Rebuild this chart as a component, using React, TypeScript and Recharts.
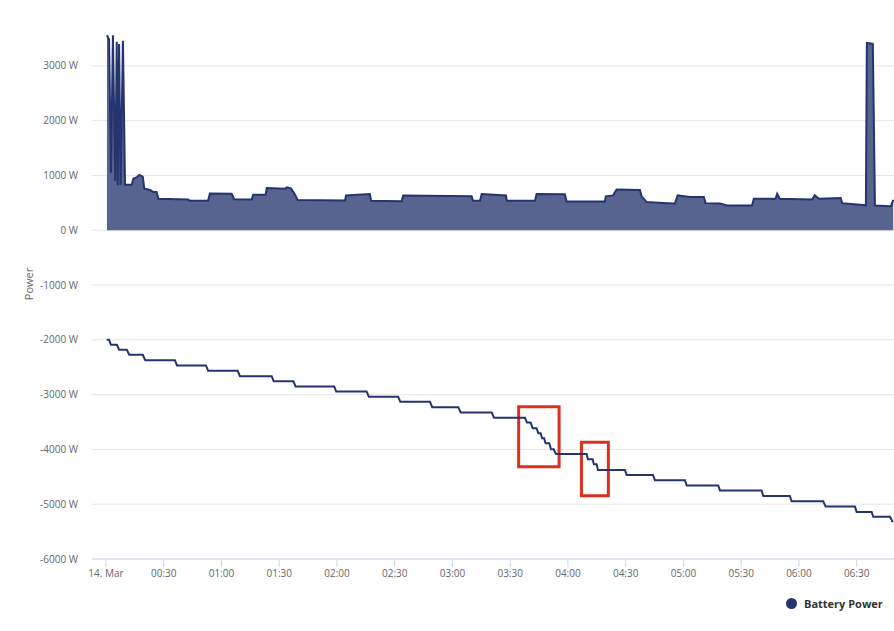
import React from 'react';
import {
  ComposedChart,
  Area,
  Line,
  XAxis,
  YAxis,
  CartesianGrid,
  ReferenceArea,
  Legend,
} from 'recharts';

// Upper series: consumption (positive), minutes after 14. Mar 00:00
const powerTimes = [
  0.5, 1.6, 2.6, 3.6, 4.8, 5.6, 6.1, 6.8, 7.6, 8.8, 9.9, 13.4, 14.2, 15.9, 17.3, 19.1,
  19.9, 22.9, 24.6, 26.3, 27.2, 42.6, 43.6, 53.0, 54.0, 65.3, 66.6, 75.7, 76.5, 83.0,
  83.5, 93.0, 94.0, 96.1, 97.3, 98.2, 99.6, 124.2, 124.7, 137.1, 137.7, 153.6, 154.4,
  190.0, 190.6, 194.3, 195.2, 207.8, 208.2, 222.9, 223.7, 238.4, 239.3, 259.2, 259.7,
  263.4, 265.3, 277.4, 278.3, 280.9, 291.4, 295.6, 297.0, 303.4, 310.6, 311.5, 319.0,
  322.6, 335.6, 336.6, 347.9, 348.7, 350.1, 366.8, 368.2, 370.4, 381.7, 382.5, 394.8,
  395.3, 398.4, 399.5, 407.8, 409.0,
];
const powerValues = [
  3560, 3480, 1050, 3560, 900, 3440, 820, 3400, 830, 3460, 830, 830, 940, 964, 1010, 977,
  758, 734, 697, 697, 575, 560, 539, 539, 672, 666, 566, 560, 648, 648,
  770, 758, 783, 765, 700, 648, 551, 545, 636, 660, 539, 530, 636,
  620, 539, 539, 660, 636, 539, 539, 660, 655, 527, 527, 620,
  636, 745, 734, 620, 514, 495, 487, 636, 608, 608, 495, 490,
  453, 453, 575, 575, 666, 575, 560, 640, 575, 590, 495, 455,
  3420, 3400, 450, 440, 557,
];

// Lower series: Battery Power (negative, stepped)
const batteryTimes = [
  0.4, 1.6, 2.6, 5.7, 6.8, 10.8, 12.1, 19.1, 20.4, 35.8, 36.9, 51.9, 53.1, 68.4, 69.6,
  86.1, 87.1, 97.3, 98.5, 118.6, 119.6, 135.4, 136.6, 151.8, 152.9, 168.3, 169.5, 183.0,
  184.3, 200.4, 201.6, 217.7, 218.7, 220.6, 221.7, 223.7, 224.6, 225.8, 226.6, 227.6,
  228.4, 230.3, 231.2, 232.6, 233.8, 249.7, 250.4, 252.8, 253.5, 254.9, 255.6, 269.6,
  270.5, 284.2, 285.2, 300.8, 301.7, 318.1, 319.0, 340.6, 341.5, 355.3, 356.2, 372.6,
  373.9, 389.1, 390.0, 397.8, 398.6, 407.3, 408.8,
];
const batteryValues = [
  -2000, -2000, -2091, -2091, -2182, -2182, -2273, -2273, -2371, -2371, -2468, -2468, -2566, -2566, -2663,
  -2663, -2754, -2754, -2852, -2852, -2943, -2943, -3040, -3040, -3132, -3132, -3229, -3229,
  -3327, -3327, -3424, -3424, -3511, -3511, -3614, -3614, -3705, -3705, -3796, -3796,
  -3887, -3887, -3997, -3997, -4082, -4082, -4180, -4180, -4270, -4270, -4374, -4374,
  -4465, -4465, -4562, -4562, -4660, -4660, -4751, -4751, -4849, -4849, -4946, -4946,
  -5043, -5043, -5140, -5140, -5231, -5231, -5330,
];

const xTicks = [0, 30, 60, 90, 120, 150, 180, 210, 240, 270, 300, 330, 360, 390];
const yTicks = [-6000, -5000, -4000, -3000, -2000, -1000, 0, 1000, 2000, 3000];

// Red highlight boxes (annotations)
const highlightX1 = [214.4, 247.0];
const highlightX2 = [235.4, 261.0];
const highlightY1 = [-3220, -3867];
const highlightY2 = [-4316, -4846];

const powerData = powerTimes.map((t, i) => ({ t, v: powerValues[i] }));
const batteryData = batteryTimes.map((t, i) => ({ t, v: batteryValues[i] }));

const NAVY = '#24346f';
const FONT = "'Open Sans', sans-serif";

const fmtX = (v: number) => {
  if (v === 0) return '14. Mar';
  const h = Math.floor(v / 60);
  const m = v % 60;
  return `${String(h).padStart(2, '0')}:${String(m).padStart(2, '0')}`;
};

const W = 894;
const H = 631;

export default function App() {
  return (
    <div
      style={{
        position: 'absolute',
        left: 0,
        top: 0,
        width: W,
        height: H,
        overflow: 'hidden',
        fontFamily: FONT,
      }}
    >
      <ComposedChart width={W} height={H} margin={{ top: 33, right: 0, bottom: 42, left: 8 }}>
        <CartesianGrid vertical={false} stroke="#e6e6e6" horizontalValues={yTicks} />
        <XAxis
          type="number"
          dataKey="t"
          domain={[-7.27, 409.4]}
          allowDataOverflow
          ticks={xTicks}
          interval={0}
          tickFormatter={fmtX}
          axisLine={{ stroke: '#ccd6eb' }}
          tickLine={{ stroke: '#ccd6eb' }}
          tickSize={8}
          tickMargin={3}
          height={30}
          tick={{ fontSize: 10, fill: '#666666', fontFamily: FONT }}
        />
        <YAxis
          type="number"
          domain={[-6000, 3600]}
          allowDataOverflow
          ticks={yTicks}
          interval={0}
          width={84}
          tickSize={0}
          tickMargin={14}
          axisLine={false}
          tickLine={false}
          tickFormatter={(v: number) => `${v} W`}
          tick={{ fontSize: 10, fill: '#666666', fontFamily: FONT }}
          label={{
            content: () => (
              <text
                x={28.3}
                y={284}
                transform="rotate(-90 28.3 284)"
                textAnchor="middle"
                dominantBaseline="central"
                fontSize={11}
                fill="#666666"
                fontFamily={FONT}
              >
                Power
              </text>
            ),
          }}
        />
        <Area
          data={powerData}
          dataKey="v"
          name="Power"
          type="linear"
          stroke={NAVY}
          strokeWidth={2}
          fill="#56648f"
          fillOpacity={1}
          baseValue={0}
          dot={false}
          activeDot={false}
          legendType="none"
          isAnimationActive={false}
        />
        <Line
          data={batteryData}
          dataKey="v"
          name="Battery Power"
          type="linear"
          stroke={NAVY}
          strokeWidth={2}
          dot={false}
          activeDot={false}
          isAnimationActive={false}
        />
        {highlightX1.map((x1, i) => (
          <ReferenceArea
            key={i}
            x1={x1}
            x2={highlightX2[i]}
            y1={highlightY1[i]}
            y2={highlightY2[i]}
            stroke="#d8311f"
            strokeWidth={3}
            fill="none"
            fillOpacity={0}
            ifOverflow="visible"
          />
        ))}
        <Legend
          layout="horizontal"
          verticalAlign="middle"
          align="center"
          wrapperStyle={{ left: 786, top: 595, width: 110, height: 16 }}
          content={() => (
            <div style={{ display: 'flex', alignItems: 'center', height: 16 }}>
              <span
                style={{
                  width: 11,
                  height: 11,
                  borderRadius: '50%',
                  background: NAVY,
                  display: 'inline-block',
                  marginRight: 7,
                }}
              />
              <span style={{ fontSize: 11, fontWeight: 700, color: '#333333', fontFamily: FONT }}>
                Battery Power
              </span>
            </div>
          )}
        />
      </ComposedChart>
    </div>
  );
}
